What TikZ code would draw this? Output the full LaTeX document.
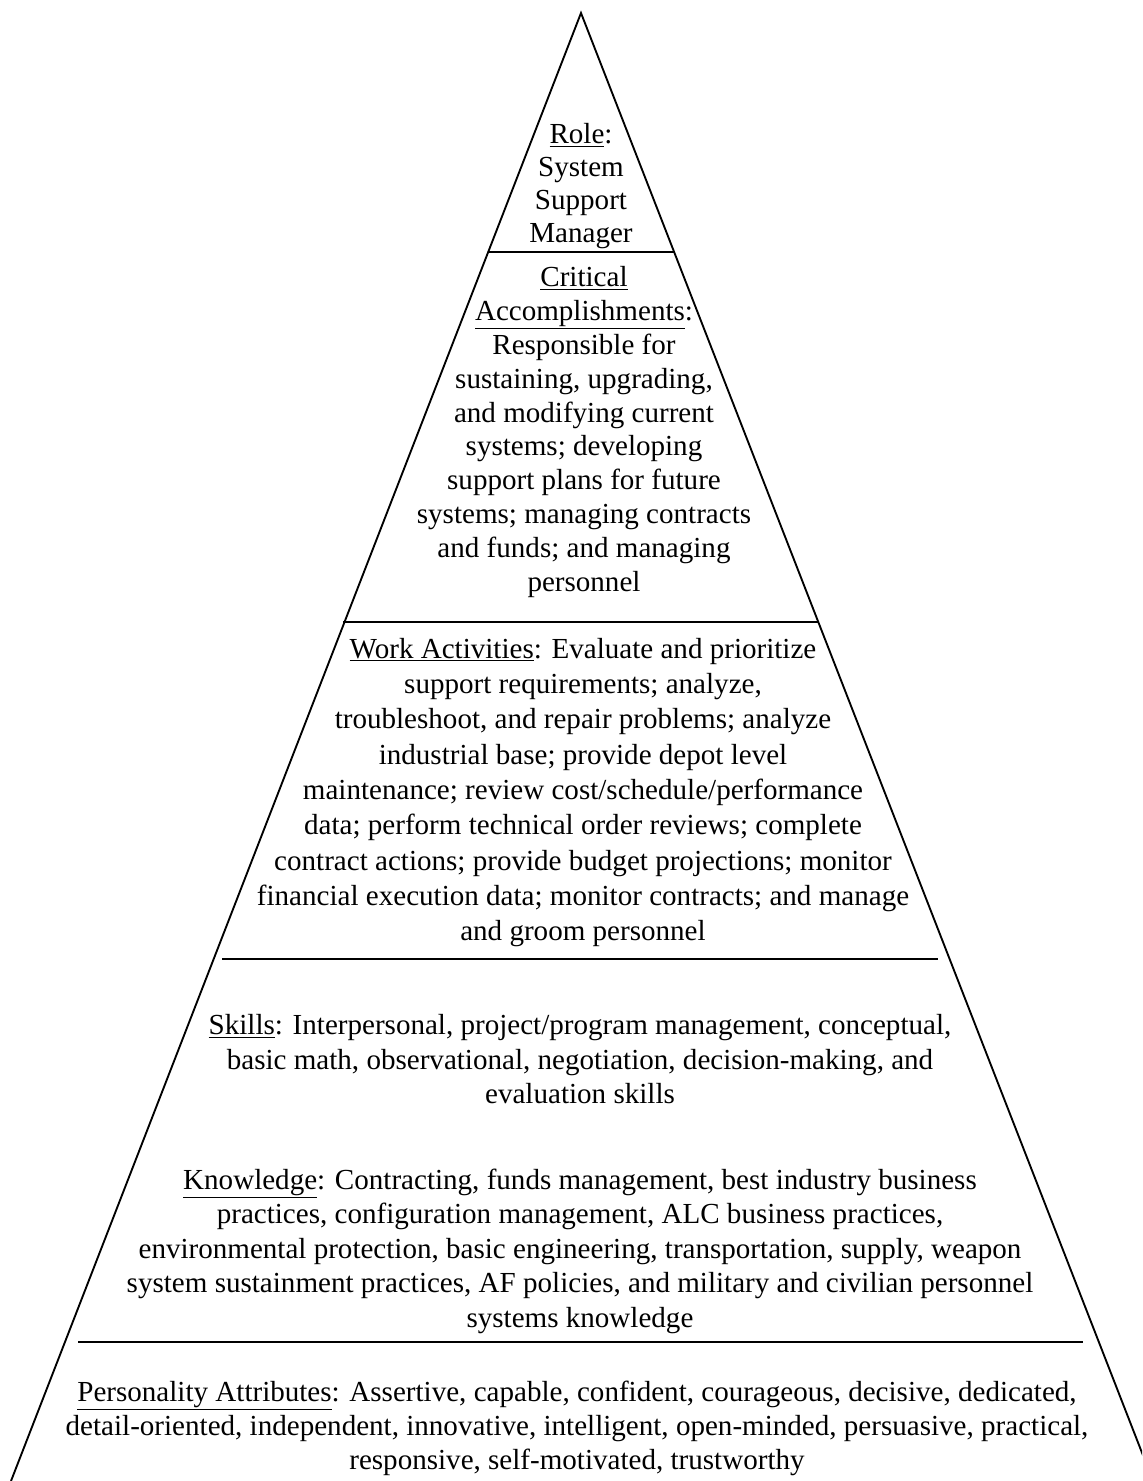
\documentclass[tikz,border=0pt]{standalone}
\usepackage{fontspec}
\setmainfont{Liberation Serif}
\begin{document}
\begin{tikzpicture}[x=0.75pt,y=-0.75pt,
  edge/.style={line width=1.4pt, black},
  txt/.style={align=center, inner sep=0pt}]
\useasboundingbox (0,0) rectangle (1142,1481);
\clip (0,0) rectangle (1142,1481);
\fill[white] (0,0) rectangle (1142,1481);
% triangle
\coordinate (apex) at (581,13);
\coordinate (bl) at (11,1481);
\coordinate (br) at (1153,1481);
\draw[edge] (bl) -- (apex) -- (br);
% dividers
\coordinate (d1l) at (488,252); \coordinate (d1r) at (675,252);
\coordinate (d2l) at (343,622); \coordinate (d2r) at (818,622);
\coordinate (d3l) at (222,959); \coordinate (d3r) at (938,959);
\coordinate (d4l) at (78,1342); \coordinate (d4r) at (1083,1342);
\draw[edge] (d1l) -- (d1r);
\draw[edge] (d2l) -- (d2r);
\draw[edge] (d3l) -- (d3r);
\draw[edge] (d4l) -- (d4r);
% texts
\node[txt, font=\fontsize{21.8}{24.75}\selectfont] (role) at (581,186.5)
  {\underline{Role}:\\System\\Support\\Manager};
\node[txt, font=\fontsize{21.8}{25.35}\selectfont] (crit) at (584,432)
  {\underline{Critical}\\\underline{Accomplishments}:\\Responsible for\\sustaining, upgrading,\\and modifying current\\systems; developing\\support plans for future\\systems; managing contracts\\and funds; and managing\\personnel};
\node[txt, font=\fontsize{21.8}{26.5}\selectfont] (work) at (583,792.5)
  {\underline{Work Activities}: Evaluate and prioritize\\support requirements; analyze,\\troubleshoot, and repair problems; analyze\\industrial base; provide depot level\\maintenance; review cost/schedule/performance\\data; perform technical order reviews; complete\\contract actions; provide budget projections; monitor\\financial execution data; monitor contracts; and manage\\and groom personnel};
\node[txt, font=\fontsize{21.8}{25.9}\selectfont] (skills) at (580,1059.5)
  {\underline{Skills}: Interpersonal, project/program management, conceptual,\\basic math, observational, negotiation, decision-making, and\\evaluation skills};
\node[txt, font=\fontsize{21.8}{25.9}\selectfont] (know) at (580,1251)
  {\underline{Knowledge}: Contracting, funds management, best industry business\\practices, configuration management, ALC business practices,\\environmental protection, basic engineering, transportation, supply, weapon\\system sustainment practices, AF policies, and military and civilian personnel\\systems knowledge};
\node[txt, font=\fontsize{21.8}{25.5}\selectfont] (pers) at (577,1428)
  {\underline{Personality Attributes}: Assertive, capable, confident, courageous, decisive, dedicated,\\detail-oriented, independent, innovative, intelligent, open-minded, persuasive, practical,\\responsive, self-motivated, trustworthy};
\end{tikzpicture}
\end{document}
